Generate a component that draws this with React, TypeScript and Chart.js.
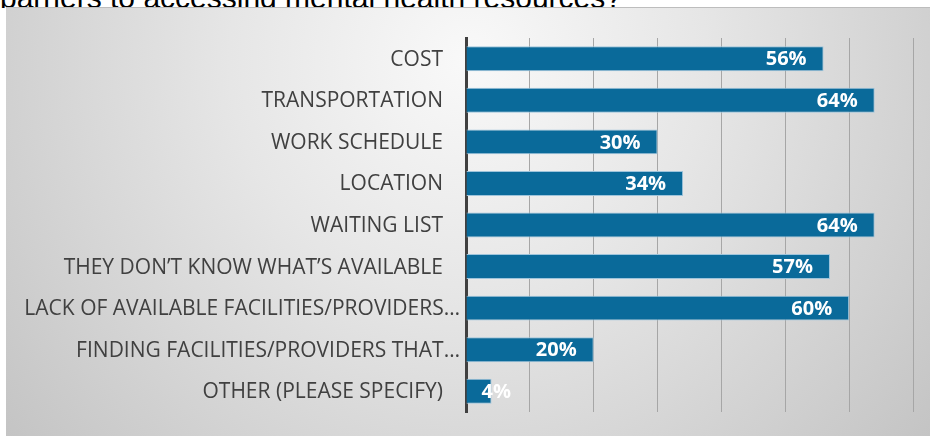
import React, { useEffect, useRef } from "react";
import { Chart, registerables } from "chart.js";

Chart.register(...registerables);

const TITLE = "barriers to accessing mental health resources?";
const categories = [
  "COST",
  "TRANSPORTATION",
  "WORK SCHEDULE",
  "LOCATION",
  "WAITING LIST",
  "THEY DON\u2019T KNOW WHAT\u2019S AVAILABLE",
  "LACK OF AVAILABLE FACILITIES/PROVIDERS\u2026",
  "FINDING FACILITIES/PROVIDERS THAT\u2026",
  "OTHER (PLEASE SPECIFY)",
];
const values = [56, 64, 30, 34, 64, 57, 60, 20, 4];
const xMax = 70;
const xStep = 10;

const BAR_COLOR = "#0A6A9A";
const BAR_EDGE = "#9EC4DB";
const LABEL_FONT = "21px 'Open Sans'";
const VALUE_FONT = "bold 20px 'Open Sans'";

const categoryLabelPlugin = {
  id: "categoryLabels",
  afterDraw(chart: any) {
    const { ctx, chartArea } = chart;
    const yScale = chart.scales.y;
    ctx.save();
    ctx.font = LABEL_FONT;
    ctx.fillStyle = "#404040";
    ctx.textAlign = "right";
    ctx.textBaseline = "middle";
    categories.forEach((label, i) => {
      const y = yScale.getPixelForValue(i);
      const gap = label.endsWith("\u2026") ? 6 : 23;
      ctx.fillText(label, chartArea.left - gap, y + 1);
    });
    ctx.restore();
  },
};

const valueLabelPlugin = {
  id: "valueLabels",
  afterDatasetsDraw(chart: any) {
    const { ctx } = chart;
    const meta = chart.getDatasetMeta(0);
    ctx.save();
    ctx.font = VALUE_FONT;
    ctx.fillStyle = "#ffffff";
    ctx.textAlign = "left";
    ctx.textBaseline = "middle";
    meta.data.forEach((bar: any, i: number) => {
      const text = values[i] + "%";
      const w = ctx.measureText(text).width;
      let left = bar.x - 17 - w;
      if (left < bar.base + 15) left = bar.base + 15;
      ctx.fillText(text, left, bar.y + 1);
    });
    ctx.restore();
  },
};

function BarChart() {
  const ref = useRef<HTMLCanvasElement | null>(null);
  useEffect(() => {
    if (!ref.current) return;
    const chart = new Chart(ref.current, {
      type: "bar",
      data: {
        labels: categories,
        datasets: [
          {
            data: values,
            backgroundColor: BAR_COLOR,
            borderColor: BAR_EDGE,
            borderWidth: 1,
            borderSkipped: "start",
            categoryPercentage: 1,
            barPercentage: 0.6,
          },
        ],
      },
      options: {
        indexAxis: "y",
        animation: false,
        responsive: false,
        maintainAspectRatio: false,
        layout: { padding: { left: 460, right: 17, top: 31, bottom: 24 } },
        plugins: {
          legend: { display: false },
          tooltip: { enabled: false },
        },
        scales: {
          x: {
            min: 0,
            max: xMax,
            ticks: { display: false, stepSize: xStep },
            grid: { color: "#A6A6A6", lineWidth: 1, drawTicks: false },
            border: { display: false },
            afterFit(scale: any) {
              scale.height = 0;
            },
          },
          y: {
            ticks: { display: false },
            grid: { display: false, drawTicks: false },
            border: { display: true, color: "#404040", width: 3 },
            afterFit(scale: any) {
              scale.width = 0;
            },
          },
        },
      },
      plugins: [categoryLabelPlugin, valueLabelPlugin],
    });
    return () => chart.destroy();
  }, []);
  return <canvas ref={ref} width={924} height={429} style={{ display: "block" }} />;
}

export default function App() {
  useEffect(() => {
    document.body.style.margin = "0";
  }, []);
  return (
    <div style={{ position: "relative", width: 930, height: 436, overflow: "hidden", background: "#ffffff" }}>
      <div
        style={{
          position: "absolute",
          left: 0,
          top: -19,
          fontFamily: "'Liberation Sans', Arial, sans-serif",
          fontSize: 30,
          lineHeight: "34px",
          color: "#000",
          whiteSpace: "nowrap",
        }}
      >
        {TITLE}
      </div>
      <div
        style={{
          position: "absolute",
          left: 6,
          top: 7,
          width: 924,
          height: 429,
          borderTop: "1px solid #BDBDBD",
          boxSizing: "border-box",
          background: "radial-gradient(circle at 50% 12%, #F9F9F9 0%, #E6E6E6 40%, #C4C4C4 100%)",
        }}
      >
        <div style={{ position: "absolute", left: 0, top: -1 }}>
          <BarChart />
        </div>
      </div>
    </div>
  );
}
